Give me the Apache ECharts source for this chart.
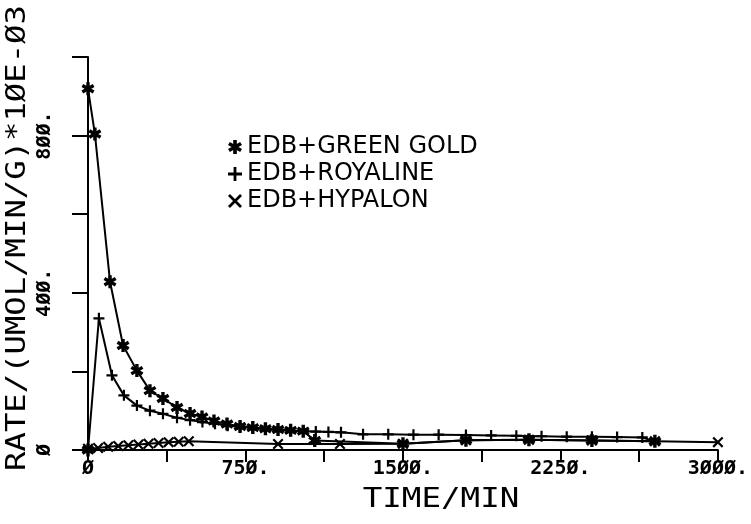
<!DOCTYPE html>
<html>
<head>
<meta charset="utf-8">
<script src="https://cdn.jsdelivr.net/npm/echarts@6/dist/echarts.min.js"></script>
<style>
  html, body { margin: 0; padding: 0; background: #fff; }
  #chart { width: 751px; height: 524px; }
</style>
</head>
<body>
<div id="chart"></div>
<script>
// time (min) and rate (umol/min/g * 1E-03)
const ggTime = [0, 0, 33, 105, 167, 233, 295, 357, 424, 486, 543, 600, 662, 724, 785, 845, 905, 965, 1025, 1080, 1500, 1800, 2100, 2400, 2700];
const ggRate = [0, 919, 804, 428, 266, 202, 151, 131, 108, 93, 84, 74, 66, 60, 57, 54, 52, 50, 48, 24, 16, 25, 26, 24, 22];

const royTime = [0, 52, 114, 171, 233, 295, 357, 424, 486, 545, 605, 665, 725, 785, 845, 905, 965, 1025, 1085, 1145, 1205, 1310, 1430, 1550, 1670, 1800, 1920, 2040, 2160, 2280, 2400, 2520, 2640, 2700];
const royRate = [0, 335, 190, 139, 113, 100, 92, 82, 76, 71, 67, 62, 59, 56, 53, 51, 49, 48, 47, 46, 45, 40, 40, 39, 39, 38, 37, 36, 35, 34, 34, 33, 32, 22];

const hypTime = [0, 48, 96, 144, 192, 240, 288, 336, 384, 432, 480, 905, 1200, 1500, 1800, 2100, 2400, 2700, 3000];
const hypRate = [3, 5, 8, 10, 12, 14, 16, 18, 20, 21, 22, 15, 15, 16, 25, 26, 24, 22, 20];

const seriesNames = ["EDB+GREEN GOLD", "EDB+ROYALINE", "EDB+HYPALON"];

const xLabelValues = [0, 750, 1500, 2250, 3000];
const xTickLabels = ["Ø", "75Ø.", "15ØØ.", "225Ø.", "3ØØØ."];
const yLabelValues = [0, 400, 800];
const yTickLabels = ["Ø", "4ØØ.", "8ØØ."];

const xTitle = "TIME/MIN";
const yTitle = "RATE/(UMOL/MIN/G)*1ØE-Ø3";

// plotter style markers
const starIcon = "path://M-1.3,-5L1.3,-5L1.3,5L-1.3,5ZM3.68,-3.626L4.98,-1.374L-3.68,3.626L-4.98,1.374ZM4.98,1.374L3.68,3.626L-4.98,-1.374L-3.68,-3.626Z";
const plusIcon = "path://M-1,-5L1,-5L1,-1L5,-1L5,1L1,1L1,5L-1,5L-1,1L-5,1L-5,-1L-1,-1Z";
const crossIcon = "path://M2.97,-4.1L4.1,-2.97L-2.97,4.1L-4.1,2.97ZM4.1,2.97L2.97,4.1L-4.1,-2.97L-2.97,-4.1Z";

const pairs = (xs, ys) => xs.map((x, i) => [x, ys[i]]);

const mono = "DejaVu Sans Mono";

function lineSeries(name, data, symbol, size) {
    return {
        name,
        type: "line",
        data,
        symbol,
        symbolSize: size,
        symbolKeepAspect: true,
        showAllSymbol: true,
        lineStyle: { color: "#000", width: 2 },
        itemStyle: { color: "#000" },
        emphasis: { disabled: true },
    };
}

const chart = echarts.init(document.getElementById("chart"), null, { renderer: "canvas" });

chart.setOption({
    backgroundColor: "#fff",
    animation: false,
    grid: { left: 88, right: 33, top: 57, bottom: 74 },
    legend: {
        orient: "vertical",
        left: 223,
        top: 130,
        itemWidth: 14,
        itemHeight: 14,
        itemGap: 3,
        selectedMode: false,
        textStyle: { fontFamily: "DejaVu Sans", fontSize: 24, color: "#000" },
        data: [
            { name: seriesNames[0], icon: starIcon },
            { name: seriesNames[1], icon: plusIcon },
            { name: seriesNames[2], icon: crossIcon },
        ],
    },
    xAxis: {
        type: "value",
        min: 0,
        max: 3000,
        interval: 375,
        splitLine: { show: false },
        axisLine: { onZero: false, lineStyle: { color: "#000", width: 2 } },
        axisTick: { length: 12, lineStyle: { color: "#000", width: 2 } },
        axisLabel: {
            margin: 9,
            color: "#000",
            fontFamily: mono,
            fontWeight: "bold",
            fontSize: 20,
            formatter: (v) => {
                const i = xLabelValues.indexOf(v);
                return i >= 0 ? xTickLabels[i] : "";
            },
        },
    },
    yAxis: {
        type: "value",
        min: 0,
        max: 1000,
        interval: 200,
        offset: 6,
        splitLine: { show: false },
        axisLine: { show: true, lineStyle: { color: "#000", width: 2 } },
        axisTick: { length: 16, lineStyle: { color: "#000", width: 2 } },
        axisLabel: {
            rotate: 90,
            margin: 27,
            color: "#000",
            fontFamily: mono,
            fontWeight: "bold",
            fontSize: 20,
            formatter: (v) => {
                const i = yLabelValues.indexOf(v);
                return i >= 0 ? yTickLabels[i] : "";
            },
        },
    },
    graphic: [
        {
            type: "text",
            x: 441,
            y: 500,
            scaleX: 1.25,
            style: { text: xTitle, fill: "#000", font: "26px " + mono, align: "center", verticalAlign: "middle" },
        },
        {
            type: "text",
            x: 18,
            y: 238,
            rotation: Math.PI / 2,
            scaleX: 1.24,
            style: { text: yTitle, fill: "#000", font: "26px " + mono, align: "center", verticalAlign: "middle" },
        },
    ],
    series: [
        lineSeries(seriesNames[0], pairs(ggTime, ggRate), starIcon, 13),
        lineSeries(seriesNames[1], pairs(royTime, royRate), plusIcon, 11),
        lineSeries(seriesNames[2], pairs(hypTime, hypRate), crossIcon, 11),
    ],
});
</script>
</body>
</html>
